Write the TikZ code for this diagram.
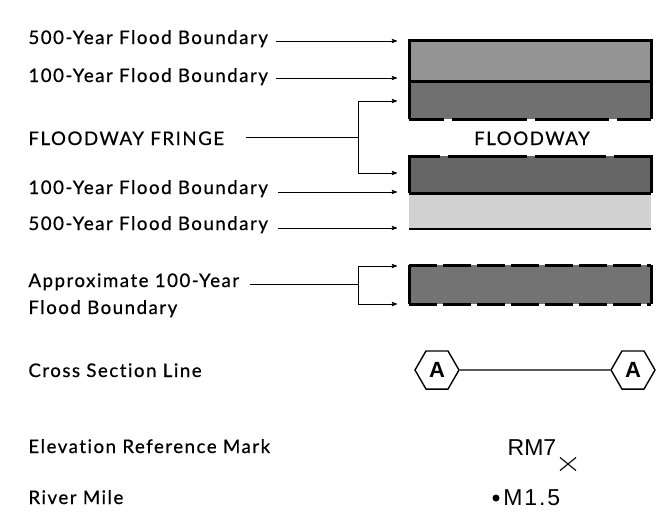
\documentclass[tikz,border=0pt]{standalone}
\usepackage{fontspec}
\setmainfont{Lato}[LetterSpace=8,FakeBold=0.6,Ligatures=NoCommon]
\newfontfamily\symfont{Liberation Sans}
\usepackage{tikz}
\usetikzlibrary{arrows,shapes.geometric,shapes.misc}

\begin{document}
\begin{tikzpicture}[x=1pt,y=-1pt,>=stealth',line width=0.9pt,
  lbl/.style={anchor=base west,inner sep=0pt,font=\fontsize{18.7}{20}\selectfont},
  sym/.style={anchor=base,inner sep=0pt,font=\symfont\fontsize{23}{24}\selectfont},
  hexa/.style={regular polygon,regular polygon sides=6,draw,line width=1.4pt,
    minimum size=44pt,inner sep=0pt,font=\symfont\bfseries\fontsize{22}{22}\selectfont},
  edge/.style={line width=3pt},
  feed/.style={->,shorten >=1pt}]
  \useasboundingbox (0,0) rectangle (663,525);

  % shaded bands
  \fill[black!42] (409,40) rectangle (651,81);
  \fill[black!56] (409,81) rectangle (651,119);
  \fill[black!60] (409,156) rectangle (651,193);
  \fill[black!18] (409,193) rectangle (651,229);
  \fill[black!55] (409,265) rectangle (651,304);

  \draw[edge] (409,119) -- (409,40) -- (651,40) -- (651,119);
  \draw[edge] (409,81) -- (651,81);
  \draw[edge] (409,119) -- (444,119) (452,119) -- (527,119) (535,119) -- (609,119) (617,119) -- (651,119);
  \draw[edge] (409,193) -- (409,156) -- (440,156) (448,156) -- (527,156) (535,156) -- (606,156) (614,156) -- (651,156) -- (651,193);
  \draw[edge] (409,193) -- (651,193);
  \draw[line width=2pt] (409,229) -- (651,229);
  \draw[edge] (409,265) -- (409,304) (651,265) -- (651,304);
  \draw[edge,dash pattern=on 28pt off 6pt] (409,265) -- (651,265);
  \draw[edge,dash pattern=on 28pt off 6pt] (409,304) -- (651,304);

  \node[anchor=base,inner sep=0pt,font=\fontsize{18.7}{20}\selectfont] (fw) at (532,145) {FLOODWAY};

  % legend labels
  \node[lbl] (u500) at (28,44) {500-Year Flood Boundary};
  \node[lbl] (u100) at (28,82) {100-Year Flood Boundary};
  \node[lbl] (fringe) at (28,145) {FLOODWAY FRINGE};
  \node[lbl] (l100) at (28,194) {100-Year Flood Boundary};
  \node[lbl] (l500) at (28,230) {500-Year Flood Boundary};
  \node[lbl] (apx) at (28,287) {Approximate 100-Year};
  \node[lbl] (apx2) at (28,314) {Flood Boundary};
  \node[lbl] (xs) at (28,377) {Cross Section Line};
  \node[lbl] (erm) at (28,453) {Elevation Reference Mark};
  \node[lbl] (rmile) at (28,504) {River Mile};

  % arrow ends
  \coordinate (a1) at (398,41);
  \coordinate (a2) at (398,78);
  \coordinate (a3) at (398,101);
  \coordinate (a4) at (398,173);
  \coordinate (a5) at (398,192);
  \coordinate (a6) at (398,228);
  \coordinate (a7) at (398,266);
  \coordinate (a8) at (398,304);
  \coordinate (fj) at (358,137);
  \coordinate (aj) at (358,284);

  \draw[feed] ([xshift=8pt]u500.east |- a1) -- (a1);
  \draw[feed] ([xshift=8pt]u100.east |- a2) -- (a2);
  \draw ([xshift=22pt]fringe.east |- fj) -- (fj);
  \draw[feed] (fj) |- (a3);
  \draw[feed] (fj) |- (a4);
  \draw[feed] ([xshift=10pt]l100.east |- a5) -- (a5);
  \draw[feed] ([xshift=10pt]l500.east |- a6) -- (a6);
  \draw ([xshift=10pt]apx.east |- aj) -- (aj);
  \draw[feed] (aj) |- (a7);
  \draw[feed] (aj) |- (a8);

  % symbols
  \node[hexa] (hA) at (437,370) {A};
  \node[hexa] (hB) at (633,370) {A};
  \draw[line width=1.2pt] (hA) -- (hB);

  \node[sym] (rm7) at (532,455) {RM7};
  \node[cross out,draw,line width=1.1pt,minimum width=15pt,minimum height=12pt,inner sep=0pt] (xmark) at (568,464) {};
  \node[circle,fill,inner sep=0pt,minimum size=7pt] (dot) at (496,498) {};
  \node[sym,anchor=base west,font=\symfont\fontsize{23}{24}\selectfont\addfontfeature{LetterSpace=8}] (mile) at (503,505) {M1.5};
\end{tikzpicture}
\end{document}
